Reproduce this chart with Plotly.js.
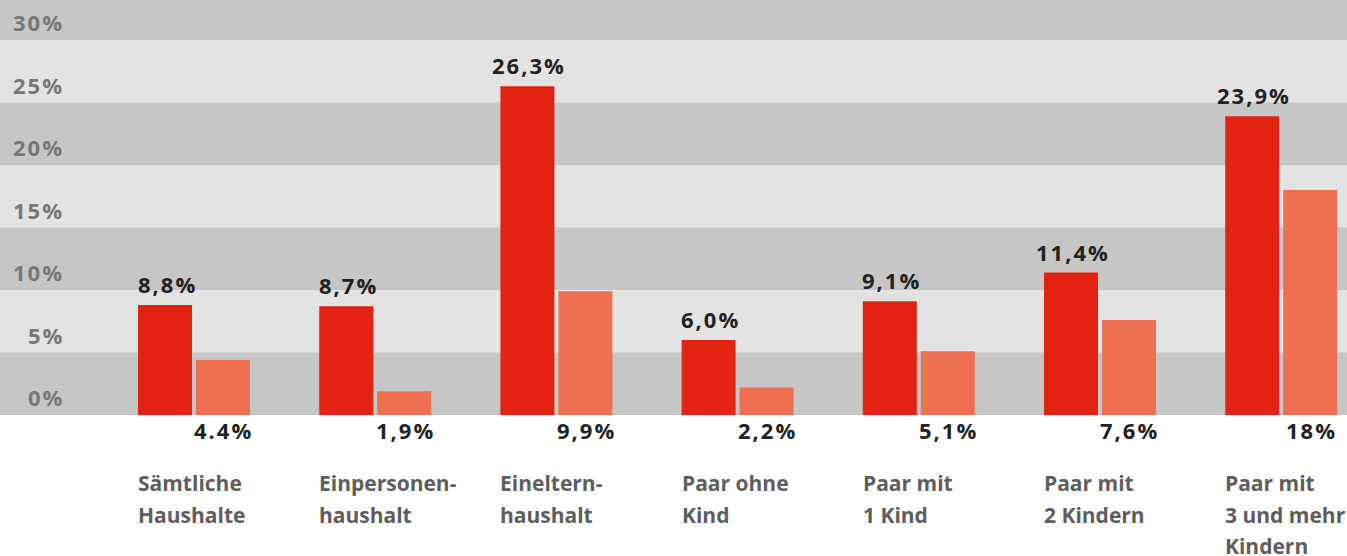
<!DOCTYPE html>
<html>
<head>
<meta charset="utf-8">
<script src="https://cdn.plot.ly/plotly-3.0.1.min.js"></script>
<style>
html, body { margin: 0; padding: 0; background: #ffffff; }
#chart { width: 1347px; height: 556px; }
</style>
</head>
<body>
<div id="chart"></div>
<script>
// ---- data ----
const categories = [
  ["Sämtliche", "Haushalte"],
  ["Einpersonen-", "haushalt"],
  ["Eineltern-", "haushalt"],
  ["Paar ohne", "Kind"],
  ["Paar mit", "1 Kind"],
  ["Paar mit", "2 Kindern"],
  ["Paar mit", "3 und mehr", "Kindern"]
];
const redValues = [8.8, 8.7, 26.3, 6.0, 9.1, 11.4, 23.9];
const redLabels = ["8,8%", "8,7%", "26,3%", "6,0%", "9,1%", "11,4%", "23,9%"];
const orangeValues = [4.4, 1.9, 9.9, 2.2, 5.1, 7.6, 18];
const orangeLabels = ["4.4%", "1,9%", "9,9%", "2,2%", "5,1%", "7,6%", "18%"];
const tickValues = [0, 5, 10, 15, 20, 25, 30];
const tickLabels = ["0%", "5%", "10%", "15%", "20%", "25%", "30%"];
const lightBands = [[5, 10], [15, 20], [25, 30]];

// ---- style ----
const RED = "#e32212";
const ORANGE = "#ef7050";
const DARK_BAND = "#c5c6c5";
const LIGHT_BAND = "#e3e3e3";
const FONT = "Open Sans, Noto Sans, DejaVu Sans, sans-serif";
const BAR_W = 0.298;

const xIdx = categories.map((_, i) => i);
const spaced = t => '<span style="letter-spacing:2px">' + t + '</span>';

const traces = [
  {
    type: "bar", x: xIdx, y: redValues,
    width: BAR_W, offset: -0.309,
    marker: { color: RED, line: { width: 0 } },
    hoverinfo: "skip", showlegend: false
  },
  {
    type: "bar", x: xIdx, y: orangeValues,
    width: BAR_W, offset: 0.011,
    marker: { color: ORANGE, line: { width: 0 } },
    hoverinfo: "skip", showlegend: false
  }
];

const annotations = [];
// y tick labels
tickValues.forEach((v, i) => {
  annotations.push({
    xref: "paper", yref: "y", x: 66 / 1347, y: v,
    xanchor: "right", yanchor: "middle", yshift: 18,
    text: spaced("<b>" + tickLabels[i] + "</b>"), showarrow: false,
    font: { family: FONT, size: 22, color: "#787878" }
  });
});
// red value labels above bars
redValues.forEach((v, i) => {
  annotations.push({
    xref: "x", yref: "y", x: i - 0.309 + BAR_W / 2, y: v,
    xanchor: "center", yanchor: "middle", yshift: 21, xshift: 2,
    text: spaced("<b>" + redLabels[i] + "</b>"), showarrow: false,
    font: { family: FONT, size: 22, color: "#222222" }
  });
});
// orange value labels below axis
orangeValues.forEach((v, i) => {
  annotations.push({
    xref: "x", yref: "y", x: i + 0.011 + BAR_W / 2, y: 0,
    xanchor: "center", yanchor: "middle", yshift: -15, xshift: 1,
    text: spaced("<b>" + orangeLabels[i] + "</b>"), showarrow: false,
    font: { family: FONT, size: 22, color: "#222222" }
  });
});
// category labels
categories.forEach((lines, i) => {
  lines.forEach((line, j) => {
    annotations.push({
      xref: "x", yref: "y", x: i - 0.309, y: 0,
      xanchor: "left", yanchor: "middle", yshift: -(68 + 31.5 * j), xshift: -2,
      text: "<b>" + line + "</b>", showarrow: false,
      font: { family: FONT, size: 21, color: "#5e5e5e" }
    });
  });
});

const shapes = lightBands.map(b => ({
  type: "rect", xref: "paper", yref: "y", x0: 0, x1: 1, y0: b[0], y1: b[1],
  fillcolor: LIGHT_BAND, line: { width: 0 }, layer: "below"
}));

const layout = {
  width: 1347, height: 556,
  margin: { l: 0, r: 0, t: 0, b: 141, pad: 0 },
  paper_bgcolor: "#ffffff",
  plot_bgcolor: DARK_BAND,
  showlegend: false,
  barmode: "overlay",
  xaxis: {
    range: [-1.07064, 6.3632], showgrid: false, zeroline: false,
    showticklabels: false, ticks: "", showline: false, fixedrange: true
  },
  yaxis: {
    range: [0, 33.2], showgrid: false, zeroline: false,
    showticklabels: false, ticks: "", showline: false, fixedrange: true
  },
  shapes: shapes,
  annotations: annotations
};

Plotly.newPlot("chart", traces, layout, { displayModeBar: false, staticPlot: true });
</script>
</body>
</html>
